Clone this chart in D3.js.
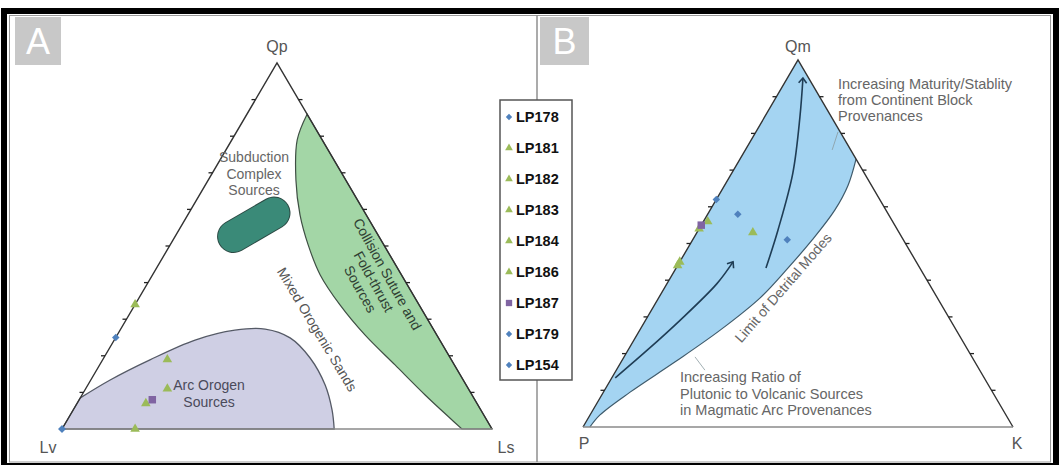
<!DOCTYPE html>
<html><head><meta charset="utf-8">
<script src="https://cdn.jsdelivr.net/npm/d3@7"></script>
<style>
body{margin:0;background:#fff}
svg{display:block}
text{font-family:"Liberation Sans",Arial,sans-serif}
</style>
</head><body>
<svg id="c" width="1062" height="465"></svg>
<script>
// ---------- DATA ----------
const samples      = ["LP178","LP181","LP182","LP183","LP184","LP186","LP187","LP179","LP154"];
const sampleMarker = ["diamond","triangle","triangle","triangle","triangle","triangle","square","diamond","diamond"];
// Panel A: Qp - Lv - Ls (percent)
const qpVals = [0, 34, 19, 11, 7, 0, 8, 25, 0];
const lvVals = [100, 66, 66, 70, 77, 83, 75, 75, 100];
const lsVals = [0, 0, 15, 19, 16, 17, 17, 0, 0];
// Panel B: Qm - P - K (percent)
const qmVals = [62, 53, 44, 56, 54, 45, 55, 58, 51];
const pVals  = [38, 34, 56, 43, 46, 55, 45, 35, 27];
const kVals  = [0, 13, 0, 1, 0, 0, 0, 7, 22];

const axisLabelsA = ["Qp","Lv","Ls"];
const axisLabelsB = ["Qm","P","K"];
const tickFractions = [10,20,30,40,50,60,70,80,90];

// Field boundaries, [top %, right %]
const collisionEdge = [[86,14],[79,15.2],[68,20.4],[58.5,26.1],[50.3,32.1],[42.1,39],[33.9,47.7],[25.7,57.6],[17.5,68.7],[9.3,79.8],[3,88.7],[0,93]];
const subductionAxis = [[52.6,13.6],[59.0,19.8]];
const arcEdge = [[8.5,0],[13.4,4.5],[18.9,11],[24.3,18.8],[27,26.7],[27.3,33.6],[24.9,40.6],[19.4,48],[12,55.2],[5.2,60.2],[0,63.3]];
const detritalEdge = [[73,27],[65.9,28.7],[59.1,29],[50.9,27.8],[43.3,26],[35.2,23.6],[26.4,18.7],[17.7,12.5],[9.5,6.2],[3.3,2.3],[0,1.6]];
const maturityArrow = [[43.3,20.9],[53.7,18.5],[69.2,14.2],[84.5,8.2],[95.1,3.6]];
const plutonicArrow = [[13.4,0.8],[21,4.5],[29,8],[39,11.6],[45,12.4]];
const leaderLines = [[[75.5,20.2],[80.4,19.1]],[[19.1,16.5],[15.5,20.6]]];

// ---------- COLORS ----------
const markerColor = {diamond:"#4f81bd", triangle:"#9bbb59", square:"#8064a2"};

const svg = d3.select("#c");

// scales for each triangle (fraction -> pixel)
const A = {x: d3.scaleLinear([0,1],[62,492]), y: d3.scaleLinear([0,1],[429,63])};
const B = {x: d3.scaleLinear([0,1],[583,1013]), y: d3.scaleLinear([0,1],[427,60])};

function proj(s, top, right){ // percent
  const t = top/100, r = right/100;
  return [s.x(r + t/2), s.y(t)];
}
function projSample(s, top, left, right){
  const sum = top + left + right;
  return proj(s, top/sum*100, right/sum*100);
}
const smooth = d3.line().curve(d3.curveCatmullRom.alpha(0.5));

// ---------- FRAME ----------
svg.append("rect").attr("x",4).attr("y",11).attr("width",1052).attr("height",455)
  .attr("fill","none").attr("stroke","#000").attr("stroke-width",6);
svg.append("rect").attr("x",9.5).attr("y",15.5).attr("width",1041).attr("height",446.5)
  .attr("fill","none").attr("stroke","#9a9a9a").attr("stroke-width",1);

// panel letters
[["A",15,46],["B",540,49]].forEach(([l,x,w])=>{
  svg.append("rect").attr("x",x).attr("y",17).attr("width",w).attr("height",48).attr("fill","#c8c8c8");
  svg.append("text").attr("x",x+w/2).attr("y",54).attr("text-anchor","middle")
    .attr("font-size",36).attr("fill","#fff").text(l);
});

// arrow marker
const defs = svg.append("defs");
defs.append("marker").attr("id","arr").attr("viewBox","-6 -5 8 10").attr("markerWidth",8).attr("markerHeight",10)
  .attr("refX",0).attr("refY",0).attr("orient","auto").attr("markerUnits","userSpaceOnUse")
  .append("path").attr("d","M-5,-4L0,0L-5,4").attr("fill","none").attr("stroke","#1f3d55").attr("stroke-width",1.6);

// ---------- PANEL A fields ----------
const gA = svg.append("g");
{
  const pts = collisionEdge.map(d=>proj(A,d[0],d[1]));
  const c = proj(A,0,100);
  gA.append("path").attr("d", smooth(pts) + "L" + c[0] + "," + c[1] + "Z")
    .attr("fill","#a3d6a6").attr("stroke","#3f4f44").attr("stroke-width",1.2);
}
{
  const pts = arcEdge.map(d=>proj(A,d[0],d[1]));
  const c = proj(A,0,0);
  gA.append("path").attr("d", smooth(pts) + "L" + c[0] + "," + c[1] + "Z")
    .attr("fill","#cfcfe4").attr("stroke","#555a66").attr("stroke-width",1.3);
}
{
  const pts = subductionAxis.map(d=>proj(A,d[0],d[1]));
  gA.append("path").attr("d", d3.line()(pts)).attr("stroke","#2c4a44").attr("stroke-width",33)
    .attr("stroke-linecap","round").attr("fill","none");
  gA.append("path").attr("d", d3.line()(pts)).attr("stroke","#3a8a78").attr("stroke-width",31)
    .attr("stroke-linecap","round").attr("fill","none");
}

// ---------- PANEL B fields ----------
const gB = svg.append("g");
{
  const pts = detritalEdge.map(d=>proj(B,d[0],d[1]));
  const p0 = proj(B,0,0), ap = proj(B,100,0);
  gB.append("path").attr("d", "M"+p0[0]+","+p0[1]+"L"+ap[0]+","+ap[1]+"L"+pts[0][0]+","+pts[0][1]
      + smooth(pts).replace(/^M[^A-Za-z]*/, "") + "Z")
    .attr("fill","#a4d4f2").attr("stroke","none");
  gB.append("path").attr("d", smooth(pts)).attr("fill","none").attr("stroke","#3e5a6b").attr("stroke-width",1.2);
  gB.append("path").attr("d", smooth(maturityArrow.map(d=>proj(B,d[0],d[1]))))
    .attr("fill","none").attr("stroke","#1f3d55").attr("stroke-width",1.6).attr("marker-end","url(#arr)");
  gB.append("path").attr("d", smooth(plutonicArrow.map(d=>proj(B,d[0],d[1]))))
    .attr("fill","none").attr("stroke","#1f3d55").attr("stroke-width",1.6).attr("marker-end","url(#arr)");
  leaderLines.forEach(l=>{
    gB.append("path").attr("d", d3.line()(l.map(d=>proj(B,d[0],d[1]))))
      .attr("stroke","#8a9aa0").attr("stroke-width",0.8).attr("fill","none");
  });
}

// ---------- TRIANGLES ----------
function drawTriangle(s, labels, labelPos){
  const top = proj(s,100,0), L = proj(s,0,0), R = proj(s,0,100);
  svg.append("path").attr("d", d3.line()([L,top,R])).attr("fill","none").attr("stroke","#333").attr("stroke-width",1.4);
  svg.append("path").attr("d", d3.line()([L,R])).attr("fill","none").attr("stroke","#8a8a8a").attr("stroke-width",1.5);
  tickFractions.forEach(f=>{
    const pl = proj(s,f,0), pr = proj(s,f,100-f);
    svg.append("line").attr("x1",pl[0]).attr("y1",pl[1]).attr("x2",pl[0]-4).attr("y2",pl[1]).attr("stroke","#222").attr("stroke-width",1.3);
    svg.append("line").attr("x1",pr[0]).attr("y1",pr[1]).attr("x2",pr[0]+4).attr("y2",pr[1]).attr("stroke","#222").attr("stroke-width",1.3);
  });
  labels.forEach((t,i)=>{
    svg.append("text").attr("x",labelPos[i][0]).attr("y",labelPos[i][1]).attr("text-anchor","middle")
      .attr("font-size",16).attr("fill","#555").text(t);
  });
}
drawTriangle(A, axisLabelsA, [[277,52],[48,453],[506,453]]);
drawTriangle(B, axisLabelsB, [[798,52],[584,449],[1017,449]]);

// ---------- ANNOTATION TEXT ----------
function multiline(x, y, lines, size, fill, anchor, dy, rot){
  const g = svg.append("g").attr("transform", `translate(${x},${y})` + (rot?` rotate(${rot})`:""));
  lines.forEach((l,i)=>{
    g.append("text").attr("x",0).attr("y",i*dy).attr("text-anchor",anchor)
      .attr("font-size",size).attr("fill",fill).text(l);
  });
}
multiline(254,162,["Subduction","Complex","Sources"],14,"#666","middle",16.5);
multiline(209,390,["Arc Orogen","Sources"],14,"#4a4a5a","middle",16.5);
multiline(313,332,["Mixed Orogenic Sands"],14,"#555","middle",0,59);
{
  const g = svg.append("g").attr("transform","translate(373,282) rotate(61)");
  ["Collision Suture and","Fold-thrust","Sources"].forEach((l,i)=>{
    g.append("text").attr("x",0).attr("y",(i-1)*15.5+4).attr("text-anchor","middle")
      .attr("font-size",14).attr("fill","#2f3f33").text(l);
  });
}
multiline(838,89,["Increasing Maturity/Stablity","from Continent Block","Provenances"],14.5,"#666","start",15.8);
multiline(680,382,["Increasing Ratio of","Plutonic to Volcanic Sources","in Magmatic Arc Provenances"],14.5,"#666","start",16.5);
multiline(787,291,["Limit of Detrital Modes"],14,"#666","middle",0,-49);

// ---------- DATA POINTS ----------
function symbolPath(kind, big){
  if(kind==="diamond") return d3.symbol(d3.symbolSquare, big?28:20)();
  if(kind==="triangle") return d3.symbol(d3.symbolTriangle, big?40:26)();
  return d3.symbol(d3.symbolSquare, big?56:40)();
}
function drawPoints(s, topV, leftV, rightV){
  const order = d3.range(samples.length).sort((a,b)=> (sampleMarker[a]==="square") - (sampleMarker[b]==="square"));
  order.forEach(i=>{
    const [x,y] = projSample(s, topV[i], leftV[i], rightV[i]);
    svg.append("path").attr("d", symbolPath(sampleMarker[i], true))
      .attr("transform", `translate(${x},${y})` + (sampleMarker[i]==="diamond"?" rotate(45)":""))
      .attr("fill", markerColor[sampleMarker[i]]);
  });
}
drawPoints(A, qpVals, lvVals, lsVals);
drawPoints(B, qmVals, pVals, kVals);

// ---------- DIVIDER + LEGEND ----------
svg.append("line").attr("x1",537).attr("x2",537).attr("y1",15).attr("y2",462).attr("stroke","#8f8f8f").attr("stroke-width",1.5);
svg.append("rect").attr("x",500).attr("y",100).attr("width",72).attr("height",280)
  .attr("fill","#fff").attr("stroke","#555").attr("stroke-width",1.5);
const ly = d3.scalePoint().domain(samples).range([117,365]);
samples.forEach((s,i)=>{
  const y = ly(s);
  svg.append("path").attr("d", symbolPath(sampleMarker[i], false))
    .attr("transform", `translate(509,${y})` + (sampleMarker[i]==="diamond"?" rotate(45)":""))
    .attr("fill", markerColor[sampleMarker[i]]);
  svg.append("text").attr("x",516).attr("y",y+5).attr("font-family","Lato").attr("font-weight","bold")
    .attr("font-size",14.5).attr("fill","#111").text(s);
});
</script>
</body></html>
